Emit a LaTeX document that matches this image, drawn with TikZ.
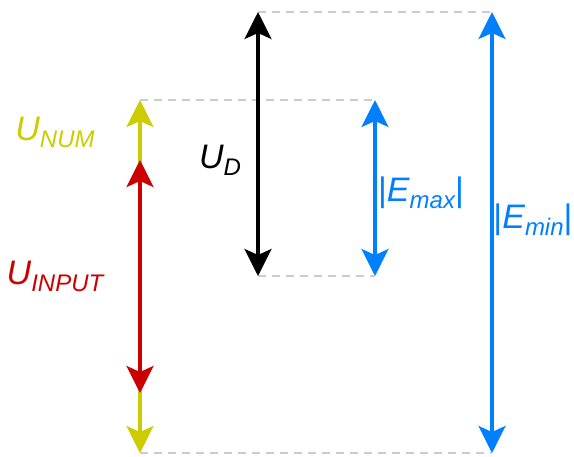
\documentclass[tikz,border=0pt]{standalone}
\usepackage{fontspec}
\setmainfont{Liberation Sans}
\usepackage{tikz}
\usetikzlibrary{arrows.meta}

\definecolor{guidegray}{HTML}{CCCCCC}
\definecolor{numyellow}{HTML}{CCCC00}
\definecolor{inred}{HTML}{CC0000}
\definecolor{eblue}{HTML}{007FFF}

% symbol with a lowered, smaller index
\newcommand{\symlabel}[2]{{\itshape #1\raisebox{-7pt}{\fontsize{24}{24}\selectfont #2}}}

\begin{document}
\begin{tikzpicture}[
    x=1pt, y=-1pt,
    guide/.style={draw=guidegray, line width=2pt, dash pattern=on 8pt off 6pt},
    span/.style={line width=3.2pt,
        {Stealth[length=27pt,width=27pt,inset=6pt]}-{Stealth[length=27pt,width=27pt,inset=6pt]}},
    lbl/.style={inner sep=0pt, font=\fontsize{34}{34}\selectfont}
]
\useasboundingbox (0,0) rectangle (574,456);

% end points of the spans
\coordinate (numtop) at (140,100);
\coordinate (numbot) at (140,453);
\coordinate (intop) at (140,160);
\coordinate (inbot) at (140,393);
\coordinate (dtop) at (258,12);
\coordinate (dbot) at (258,276);
\coordinate (maxtop) at (375,100);
\coordinate (maxbot) at (375,276);
\coordinate (mintop) at (492,12);
\coordinate (minbot) at (492,453);

% dashed guide lines
\draw[guide] (dtop) -- (mintop);
\draw[guide] (numtop) -- (maxtop);
\draw[guide] (dbot) -- (maxbot);
\draw[guide] (numbot) -- (minbot);

% spans
\draw[span, numyellow] (numtop) -- (numbot);
\draw[span, inred] (intop) -- (inbot);
\draw[span, black] (dtop) -- (dbot);
\draw[span, eblue] (maxtop) -- (maxbot);
\draw[span, eblue] (mintop) -- (minbot);

% labels
\node[lbl, text=numyellow] (unum) at (55,132) {\symlabel{U}{NUM}};
\node[lbl, text=inred] (uinput) at (55,276) {\symlabel{U}{INPUT}};
\node[lbl, text=black] (ud) at (220,160) {\symlabel{U}{D}};
\node[lbl, text=eblue] (emax) at (421,193) {|\symlabel{E}{max}|};
\node[lbl, text=eblue] (emin) at (533,220) {|\symlabel{E}{min}|};

\end{tikzpicture}
\end{document}
